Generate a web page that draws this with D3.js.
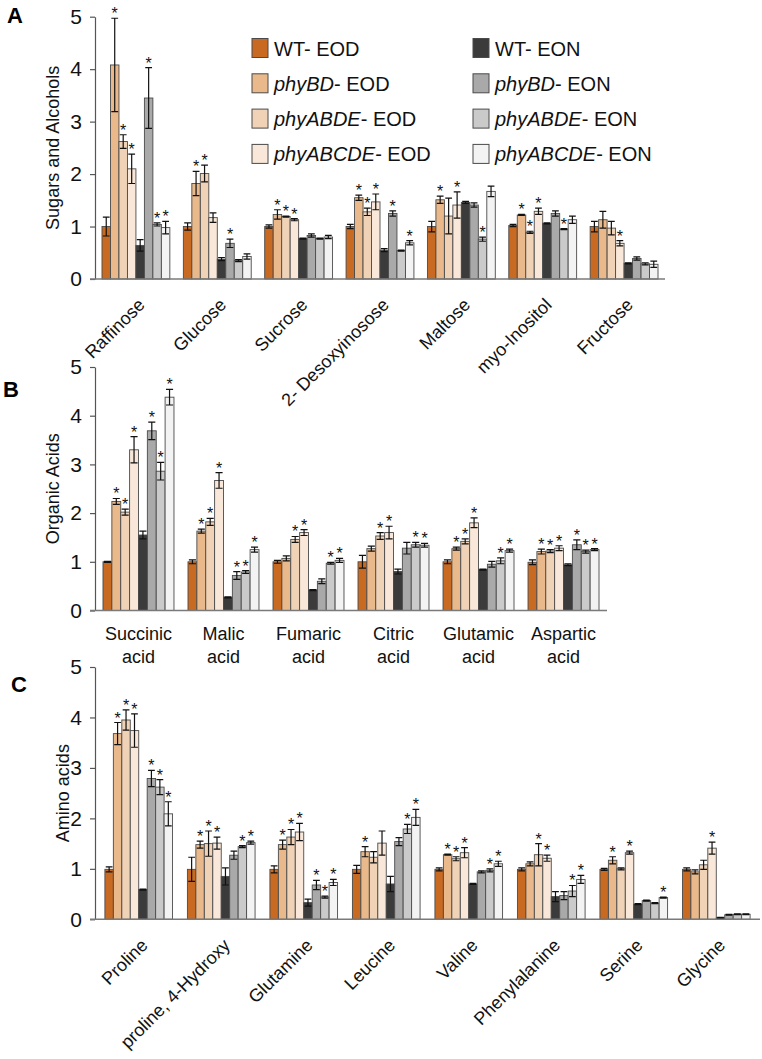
<!DOCTYPE html>
<html>
<head>
<meta charset="utf-8">
<script src="https://cdn.jsdelivr.net/npm/d3@7"></script>
<style>
  body { margin: 0; background: #fff; }
  svg { font-family: "Liberation Sans", Arial, sans-serif; }
</style>
</head>
<body>
<script>
// Genotype / condition series (same order inside every group)
const seriesGeno = ["WT", "phyBD", "phyABDE", "phyABCDE", "WT", "phyBD", "phyABDE", "phyABCDE"];
const seriesCond = ["EOD", "EOD", "EOD", "EOD", "EON", "EON", "EON", "EON"];
const seriesColors = ["#c86a22", "#e9b98b", "#f0d3b6", "#f9e8d9", "#3b3b3b", "#a9a9a9", "#cacaca", "#f3f3f3"];

// Panel A - sugars and alcohols
const sugarCats = ["Raffinose", "Glucose", "Sucrose", "2- Desoxyinosose", "Maltose", "myo-Inositol", "Fructose"];
const sugarValues = [
  [1.0, 4.08, 2.62, 2.1, 0.64, 3.45, 1.04, 0.98],
  [1.0, 1.82, 2.01, 1.17, 0.38, 0.68, 0.35, 0.43],
  [1.0, 1.23, 1.19, 1.13, 0.77, 0.83, 0.77, 0.8],
  [1.0, 1.55, 1.28, 1.47, 0.55, 1.25, 0.54, 0.69],
  [1.0, 1.51, 1.2, 1.41, 1.46, 1.41, 0.76, 1.67],
  [1.02, 1.22, 0.89, 1.29, 1.06, 1.25, 0.95, 1.13],
  [1.0, 1.13, 0.97, 0.68, 0.3, 0.39, 0.29, 0.28]
];
const sugarErrors = [
  [0.18, 0.89, 0.13, 0.28, 0.11, 0.58, 0.03, 0.12],
  [0.07, 0.23, 0.16, 0.09, 0.03, 0.08, 0.02, 0.05],
  [0.03, 0.09, 0.01, 0.02, 0.01, 0.03, 0.01, 0.03],
  [0.04, 0.05, 0.07, 0.15, 0.03, 0.05, 0.01, 0.04],
  [0.1, 0.07, 0.34, 0.25, 0.02, 0.04, 0.04, 0.1],
  [0.02, 0.01, 0.02, 0.06, 0.01, 0.05, 0.01, 0.07],
  [0.1, 0.16, 0.13, 0.05, 0.01, 0.03, 0.02, 0.06]
];
const sugarStars = [
  [0, 1, 1, 1, 0, 1, 1, 1],
  [0, 1, 1, 0, 0, 1, 0, 0],
  [0, 1, 1, 1, 0, 0, 0, 0],
  [0, 1, 1, 1, 0, 1, 0, 1],
  [0, 1, 0, 1, 0, 0, 1, 0],
  [0, 1, 1, 1, 0, 0, 1, 0],
  [0, 0, 0, 1, 0, 0, 0, 0]
];

// Panel B - organic acids
const acidCats = [["Succinic", "acid"], ["Malic", "acid"], ["Fumaric", "acid"], ["Citric", "acid"], ["Glutamic", "acid"], ["Aspartic", "acid"]];
const acidValues = [
  [1.0, 2.24, 2.02, 3.3, 1.55, 3.69, 2.86, 4.38],
  [1.0, 1.63, 1.82, 2.67, 0.27, 0.72, 0.79, 1.25],
  [1.0, 1.07, 1.46, 1.6, 0.42, 0.6, 0.97, 1.03],
  [1.0, 1.27, 1.53, 1.6, 0.8, 1.28, 1.35, 1.34],
  [1.0, 1.27, 1.42, 1.8, 0.84, 0.95, 1.02, 1.23],
  [0.99, 1.21, 1.22, 1.28, 0.94, 1.35, 1.21, 1.25]
];
const acidErrors = [
  [0.01, 0.06, 0.06, 0.27, 0.08, 0.18, 0.18, 0.16],
  [0.04, 0.04, 0.07, 0.16, 0.01, 0.08, 0.03, 0.05],
  [0.03, 0.05, 0.06, 0.06, 0.01, 0.05, 0.02, 0.04],
  [0.13, 0.05, 0.07, 0.13, 0.05, 0.12, 0.05, 0.04],
  [0.04, 0.03, 0.05, 0.1, 0.01, 0.06, 0.06, 0.03],
  [0.05, 0.05, 0.03, 0.05, 0.02, 0.1, 0.03, 0.02]
];
const acidStars = [
  [0, 1, 1, 1, 0, 1, 1, 1],
  [0, 1, 1, 1, 0, 1, 1, 1],
  [0, 0, 1, 1, 0, 0, 1, 1],
  [0, 0, 1, 1, 0, 0, 1, 1],
  [0, 1, 1, 1, 0, 0, 1, 1],
  [0, 1, 1, 1, 0, 1, 1, 1]
];

// Panel C - amino acids
const aminoCats = ["Proline", "proline, 4-Hydroxy", "Glutamine", "Leucine", "Valine", "Phenylalanine", "Serine", "Glycine"];
const aminoValues = [
  [0.99, 3.68, 3.95, 3.74, 0.59, 2.79, 2.62, 2.09],
  [0.99, 1.48, 1.5, 1.51, 0.85, 1.27, 1.44, 1.52],
  [0.99, 1.48, 1.63, 1.73, 0.33, 0.68, 0.44, 0.73],
  [0.99, 1.34, 1.23, 1.51, 0.7, 1.54, 1.79, 2.02],
  [0.99, 1.28, 1.2, 1.32, 0.7, 0.94, 0.97, 1.1],
  [0.99, 1.1, 1.28, 1.21, 0.45, 0.47, 0.56, 0.79],
  [0.99, 1.17, 1.0, 1.32, 0.3, 0.37, 0.32, 0.43],
  [0.99, 0.94, 1.08, 1.41, 0.03, 0.09, 0.1, 0.1]
];
const aminoErrors = [
  [0.05, 0.22, 0.2, 0.33, 0.01, 0.16, 0.15, 0.24],
  [0.24, 0.07, 0.25, 0.12, 0.17, 0.08, 0.02, 0.03],
  [0.07, 0.09, 0.15, 0.17, 0.07, 0.09, 0.02, 0.06],
  [0.08, 0.1, 0.11, 0.24, 0.15, 0.08, 0.09, 0.16],
  [0.03, 0.01, 0.04, 0.1, 0.01, 0.02, 0.03, 0.05],
  [0.03, 0.04, 0.22, 0.06, 0.1, 0.08, 0.11, 0.08],
  [0.02, 0.07, 0.02, 0.03, 0.01, 0.01, 0.01, 0.01],
  [0.03, 0.04, 0.09, 0.12, 0.01, 0.01, 0.01, 0.01]
];
const aminoStars = [
  [0, 1, 1, 1, 0, 1, 1, 1],
  [0, 1, 1, 1, 0, 0, 1, 1],
  [0, 1, 1, 1, 0, 1, 1, 1],
  [0, 1, 0, 0, 0, 0, 1, 1],
  [0, 1, 1, 1, 0, 0, 1, 1],
  [0, 0, 1, 1, 0, 0, 1, 1],
  [0, 1, 0, 1, 0, 0, 0, 1],
  [0, 0, 0, 1, 0, 0, 0, 0]
];

const yTicks = [0, 1, 2, 3, 4, 5];

const svg = d3.select("body").append("svg")
  .attr("width", 762)
  .attr("height", 1059);

svg.append("rect").attr("width", 762).attr("height", 1059).attr("fill", "#fff");

function drawPanel(p) {
  const x = d3.scaleBand()
    .domain(d3.range(p.values.length))
    .range(p.xRange)
    .paddingInner(p.pi)
    .paddingOuter(p.po);
  const xs = d3.scaleBand().domain(d3.range(8)).range([0, x.bandwidth()]);
  const y = d3.scaleLinear().domain([0, 5]).range([p.yBottom, p.yTop]);

  const g = svg.append("g");

  // y axis
  const yAxis = g.append("g")
    .attr("transform", `translate(${p.xRange[0]},0)`)
    .call(d3.axisLeft(y).tickValues(yTicks).tickFormat(d3.format("d"))
      .tickSize(5).tickSizeOuter(0).tickPadding(8));
  yAxis.selectAll("path, line").attr("stroke", "#555").attr("stroke-width", 1.2);
  yAxis.selectAll("text").attr("font-size", 21).attr("fill", "#111")
    .attr("font-family", "Liberation Sans, Arial, sans-serif");

  // y title
  g.append("text")
    .attr("transform", `translate(${p.titleX},${(p.yBottom + p.yTop) / 2}) rotate(-90)`)
    .attr("text-anchor", "middle")
    .attr("font-size", 18)
    .attr("fill", "#111")
    .text(p.yTitle);

  // panel letter
  g.append("text")
    .attr("x", p.letterPos[0]).attr("y", p.letterPos[1])
    .attr("font-size", 22).attr("font-weight", "bold")
    .text(p.letter);

  // bars
  p.values.forEach((vals, i) => {
    const grp = g.append("g").attr("transform", `translate(${x(i)},0)`);
    const rows = vals.map((v, j) => ({ v: v, e: p.errors[i][j], s: p.stars[i][j], j: j }));

    grp.selectAll("rect")
      .data(rows)
      .enter().append("rect")
      .attr("x", d => xs(d.j))
      .attr("y", d => y(d.v))
      .attr("width", xs.bandwidth())
      .attr("height", d => y(0) - y(d.v))
      .attr("fill", d => seriesColors[d.j])
      .attr("stroke", "#4a4a4a")
      .attr("stroke-width", 0.9);

    const cap = xs.bandwidth() * 0.8;
    grp.selectAll(".err")
      .data(rows)
      .enter().append("path")
      .attr("class", "err")
      .attr("fill", "none")
      .attr("stroke", "#111")
      .attr("stroke-width", 1.2)
      .attr("d", d => {
        const cx = xs(d.j) + xs.bandwidth() / 2;
        const t = y(d.v + d.e), b = y(Math.max(0, d.v - d.e));
        return `M${cx - cap / 2},${t}H${cx + cap / 2}M${cx},${t}V${b}M${cx - cap / 2},${b}H${cx + cap / 2}`;
      });

    grp.selectAll(".star")
      .data(rows.filter(d => d.s))
      .enter().append("text")
      .attr("class", "star")
      .attr("x", d => xs(d.j) + xs.bandwidth() / 2)
      .attr("y", d => y(d.v + d.e) + 1)
      .attr("text-anchor", "middle")
      .attr("font-size", 16)
      .attr("fill", "#111")
      .text("*");

    // category label
    const cx = x(i) + x.bandwidth() / 2;
    if (p.labelMode === "rotate") {
      g.append("text")
        .attr("transform", `translate(${cx + 10},${y(0) + 27}) rotate(-45)`)
        .attr("text-anchor", "end")
        .attr("font-size", 18)
        .attr("fill", "#111")
        .text(p.cats[i]);
    } else {
      const t = g.append("text")
        .attr("text-anchor", "middle")
        .attr("font-size", 18)
        .attr("fill", "#111");
      p.cats[i].forEach((line, k) => {
        t.append("tspan").attr("x", cx).attr("y", y(0) + 29 + k * 23).text(line);
      });
    }
  });

  // x baseline
  g.append("line")
    .attr("x1", p.xRange[0] - 5).attr("x2", p.xRange[1])
    .attr("y1", y(0)).attr("y2", y(0))
    .attr("stroke", "#7a7a7a").attr("stroke-width", 1.4);
}

drawPanel({
  cats: sugarCats, values: sugarValues, errors: sugarErrors, stars: sugarStars,
  xRange: [95, 665], pi: 0.166, po: 0.086,
  yTop: 16.7, yBottom: 279,
  yTitle: "Sugars and Alcohols", titleX: 59,
  letter: "A", letterPos: [7, 23], labelMode: "rotate"
});

drawPanel({
  cats: acidCats, values: acidValues, errors: acidErrors, stars: acidStars,
  xRange: [95, 607], pi: 0.165, po: 0.094,
  yTop: 367, yBottom: 610.5,
  yTitle: "Organic Acids", titleX: 59,
  letter: "B", letterPos: [3, 397], labelMode: "lines"
});

drawPanel({
  cats: aminoCats, values: aminoValues, errors: aminoErrors, stars: aminoStars,
  xRange: [95, 760], pi: 0.18, po: 0.12,
  yTop: 667, yBottom: 919.3,
  yTitle: "Amino acids", titleX: 69,
  letter: "C", letterPos: [11, 692], labelMode: "rotate"
});

// legend
const legend = svg.append("g");
seriesGeno.forEach((geno, i) => {
  const col = i < 4 ? 0 : 1;
  const row = i % 4;
  const lx = col === 0 ? 252 : 473;
  const ly = 48 + row * 35.3;
  legend.append("rect")
    .attr("x", lx).attr("y", ly - 9.5)
    .attr("width", 16).attr("height", 19)
    .attr("fill", seriesColors[i])
    .attr("stroke", "#4a4a4a").attr("stroke-width", 1);
  const t = legend.append("text")
    .attr("x", lx + 22).attr("y", ly + 7.5)
    .attr("font-size", 20).attr("fill", "#111");
  if (geno === "WT") {
    t.append("tspan").text("WT");
  } else {
    t.append("tspan").attr("font-style", "italic").text(geno);
  }
  t.append("tspan").text("- " + seriesCond[i]);
});
</script>
</body>
</html>
